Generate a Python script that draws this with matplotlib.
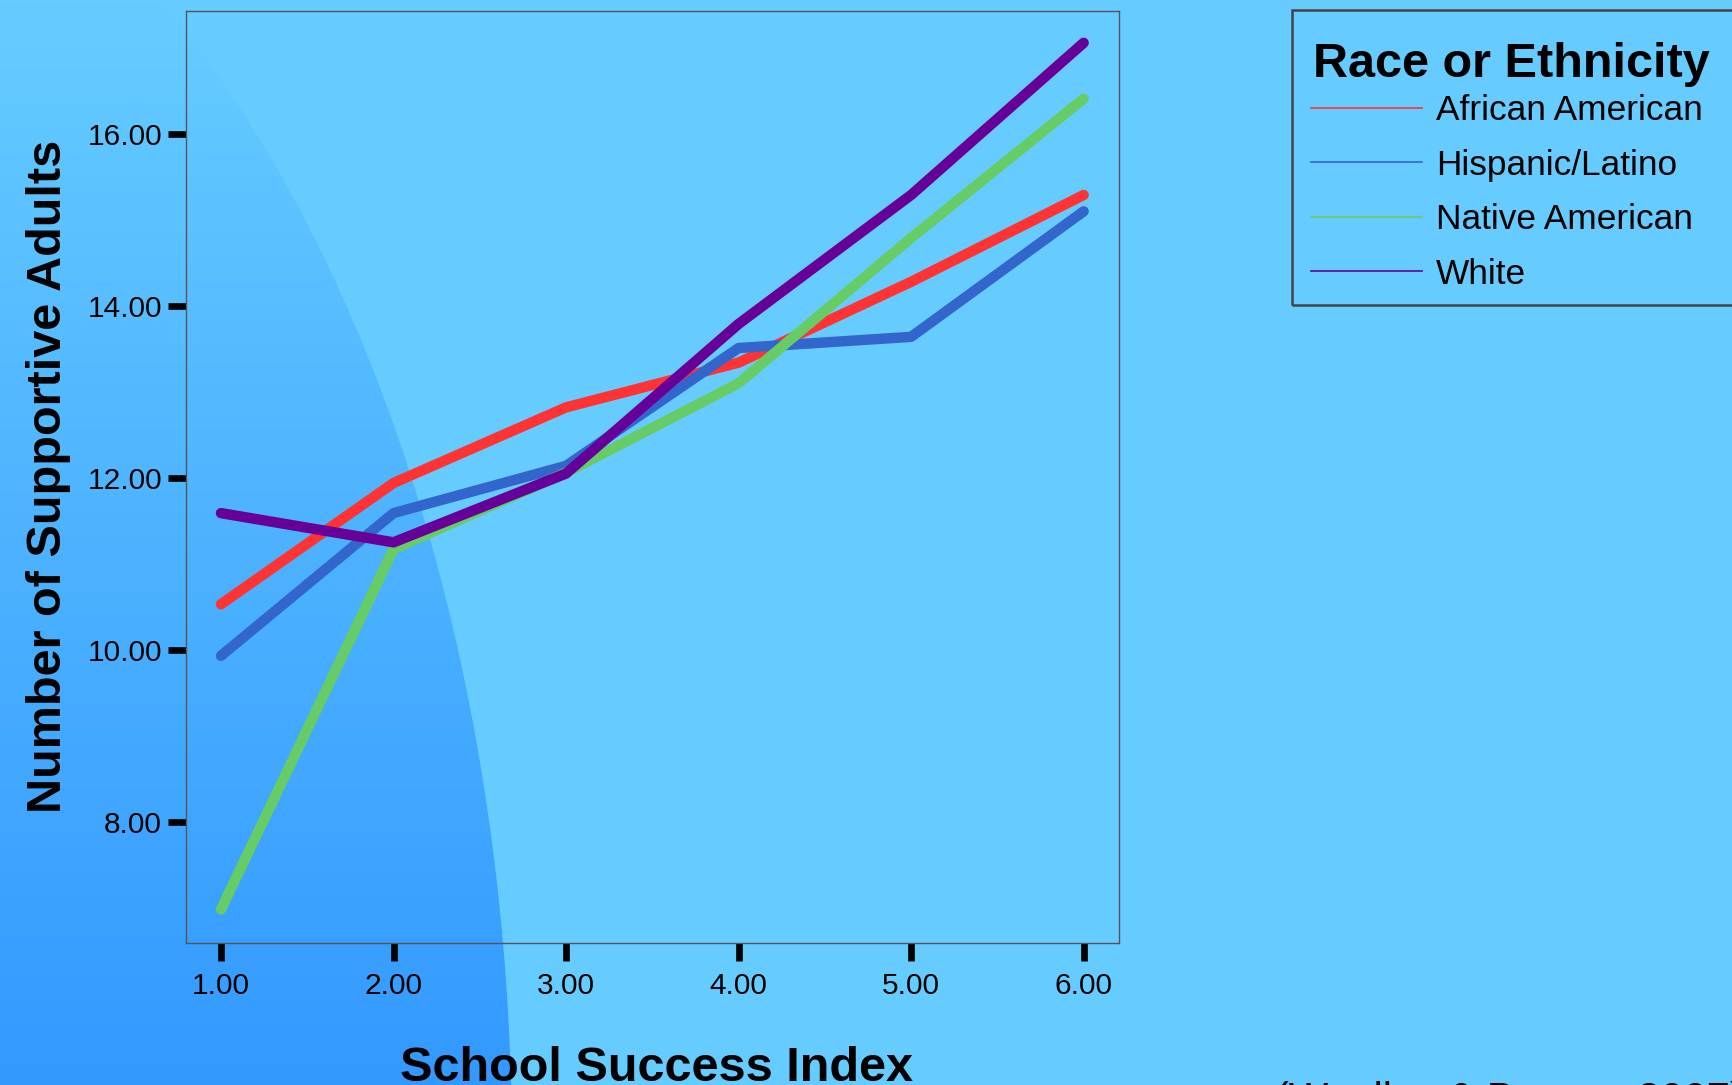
import numpy as np
import matplotlib
matplotlib.use("Agg")
from matplotlib import pyplot as plt
from matplotlib.colors import LinearSegmentedColormap
from matplotlib.patches import Ellipse, Rectangle
from matplotlib.lines import Line2D

plt.rcParams['font.family'] = ['Liberation Sans', 'DejaVu Sans']

# mean number of supportive adults by school success index
success_index = [1, 2, 3, 4, 5, 6]
african_american = [10.53, 11.94, 12.82, 13.34, 14.28, 15.29]
hispanic_latino = [9.93, 11.59, 12.14, 13.51, 13.64, 15.10]
native_american = [6.98, 11.17, 12.06, 13.10, 14.79, 16.41]
white = [11.59, 11.25, 12.05, 13.79, 15.29, 17.06]

groups = ["African American", "Hispanic/Latino", "Native American", "White"]
series = [african_american, hispanic_latino, native_american, white]
colors = ["#FF3333", "#3366CC", "#66CC66", "#660099"]

x_ticks = [1, 2, 3, 4, 5, 6]
y_ticks = [8, 10, 12, 14, 16]

W, H = 1732, 1085
fig = plt.figure(figsize=(W / 100, H / 100), dpi=100)
fig.patch.set_facecolor("#66CCFF")

# slide background: darker blue swoosh on the left
bg = fig.add_axes([0, 0, 1, 1], zorder=0)
bg.set_xlim(0, W)
bg.set_ylim(H, 0)
bg.axis("off")
shade = LinearSegmentedColormap.from_list("shade", ["#66CCFF", "#3399FF"])
grad = np.linspace(0, 1, 256).reshape(-1, 1)
im = bg.imshow(grad, extent=(0, W, H, 0), cmap=shade, aspect="auto")
swoosh = Ellipse((-300, 1150), width=2 * 812, height=2 * 1395,
                 facecolor="none", edgecolor="none", transform=bg.transData)
bg.add_patch(swoosh)
im.set_clip_path(swoosh)

ax = fig.add_axes([185.6 / W, 1 - 943 / H, (1119 - 185.6) / W, (943 - 11) / H], zorder=1)
ax.set_facecolor("none")

for vals, c in zip(series, colors):
    ax.plot(success_index, vals, color=c, lw=7.5, solid_capstyle="round",
            solid_joinstyle="round")

ax.set_xlim(0.795, 6.205)
ax.set_ylim(6.59, 17.43)
ax.set_xticks(x_ticks)
ax.set_xticklabels(["%.2f" % v for v in x_ticks])
ax.set_yticks(y_ticks)
ax.set_yticklabels(["%.2f" % v for v in y_ticks])
ax.tick_params(axis="both", length=13, width=4.8, color="black", labelsize=21.5)
ax.tick_params(axis="x", pad=8)
ax.tick_params(axis="y", pad=4)
for s in ax.spines.values():
    s.set_color("#555555")
    s.set_linewidth(1.0)

fig.text(49 / W, 1 - 476 / H, "Number of Supportive Adults", rotation=90,
         ha="center", va="center", fontsize=35, fontweight="bold")
fig.text(656 / W, 1 - 1081 / H, "School Success Index", ha="center",
         va="baseline", fontsize=35, fontweight="bold")
fig.text(1275 / W, 1 - 1112 / H, "(Woolley & Bowen, 2007)", ha="left",
         va="baseline", fontsize=30)

# legend: frame, title and entries
fig.patches.append(Rectangle((1291.5 / W, 1 - 305 / H), (1745 - 1291.5) / W,
                             (305 - 10.3) / H, transform=fig.transFigure,
                             facecolor="none", edgecolor="#444444", lw=1.8,
                             zorder=3))
fig.text(1313 / W, 1 - 76.7 / H, "Race or Ethnicity", ha="left",
         va="baseline", fontsize=35, fontweight="bold")
handles = [Line2D([], [], color=c, lw=1.2) for c in colors]
leg = fig.legend(handles, groups, loc="upper left",
                 bbox_to_anchor=(1311 / W, 1 - 94.5 / H),
                 bbox_transform=fig.transFigure, borderaxespad=0,
                 borderpad=0, fontsize=25.4, handlelength=3.14,
                 handletextpad=0.4, labelspacing=0.605, frameon=False)

fig.savefig("out.png", dpi=100, facecolor=fig.get_facecolor())
